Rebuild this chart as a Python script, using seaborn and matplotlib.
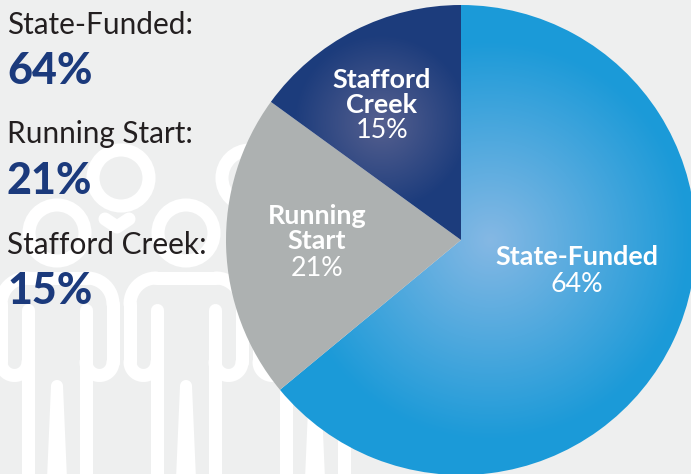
import matplotlib
matplotlib.use("Agg")
import matplotlib.pyplot as plt
import numpy as np
import seaborn as sns
from matplotlib.colors import LinearSegmentedColormap
from matplotlib.patches import Circle, Wedge

categories = ["State-Funded", "Running Start", "Stafford Creek"]
shares = [64, 21, 15]
slice_labels = ["State-Funded", "Running\nStart", "Stafford\nCreek"]

BG = "#eeefef"
NAVY = "#1b3a7c"
W, H = 691, 474

sns.set_theme(style="white")
plt.rcParams["font.family"] = ["Lato", "DejaVu Sans"]

fig = plt.figure(figsize=(W / 100, H / 100), dpi=100, facecolor=BG)
ax = fig.add_axes([0, 0, 1, 1])
ax.set_xlim(0, W)
ax.set_ylim(H, 0)
ax.axis("off")

LW = 9.4
line_style = dict(color="white", lw=LW, solid_capstyle="round", zorder=1)


def draw_head(c, y):
    ax.add_patch(Circle((c, y), 28, fill=False, ec="white", lw=LW, zorder=1))


def draw_person(c, top):
    # outline person, stroke in white behind everything
    draw_head(c, top - 45)
    for s in (-1, 1):
        t = np.linspace(0, np.pi / 2, 12)
        ax.plot([c, c + s * 30], [top, top], **line_style)
        ax.plot(c + s * (30 + 26 * np.sin(t)), top + 26 * (1 - np.cos(t)), **line_style)
        ax.plot([c + s * 56, c + s * 56], [top + 26, top + 84], **line_style)
        u = np.linspace(0, np.pi, 20)
        ax.plot(c + s * (42.5 + 13.5 * np.cos(u)), top + 84 + 13.5 * np.sin(u), **line_style)
        # inner arm line runs on into the outer leg
        ax.plot([c + s * 29, c + s * 29], [top + 32, H + 5], **line_style)
    # gap between the legs is a solid taper
    ax.fill([c - 6, c + 6, c + 10, c - 10], [top + 108, top + 108, H + 5, H + 5], color="white", lw=0, zorder=1)
    ax.add_patch(Circle((c, top + 108), 6, fc="white", ec="none", zorder=1))


# back row only shows as heads, plus the bit of shoulder between the front heads
draw_head(121, 178)
draw_head(250, 178)
ax.plot([105, 117, 129], [219, 227, 219], **line_style)
for c in [57, 186, 315]:
    draw_person(c, 278)

# pie, clockwise from 12 o'clock
cx, cy, r = 461, 240, 235
colors = ["#1b9ad8", "#adb1b1", "#1c3c7c"]
inner = ["#85b8e4", "#adb1b1", "#56608f"]
grad_centers = [(490, 240), (330, 240), (381, 122)]
grad_reach = [200, 100, 88]
yy, xx = np.mgrid[0:H, 0:W]
start = 0
for share, col, inn, gc, reach in zip(shares, colors, inner, grad_centers, grad_reach):
    end = start + share * 3.6
    # y axis is flipped, so wedge angles run clockwise from +x
    wedge = Wedge((cx, cy), r, start - 90, end - 90, fc="none", ec="none")
    ax.add_patch(wedge)
    cmap = LinearSegmentedColormap.from_list("g", [inn, col])
    d = np.hypot(xx - gc[0], yy - gc[1])
    im = ax.imshow(d, cmap=cmap, vmin=0, vmax=reach, extent=(0, W, H, 0), aspect="auto", zorder=2)
    im.set_clip_path(wedge)
    start = end

label_style = dict(color="white", fontsize=19.4, ha="center", va="center", zorder=3)
ax.text(576.5, 257, slice_labels[0], fontweight="bold", **label_style)
ax.text(577, 284, f"{shares[0]}%", **label_style)
ax.text(317, 228.5, slice_labels[1], fontweight="bold", linespacing=1.08, **label_style)
ax.text(317, 268, f"{shares[1]}%", **label_style)
ax.text(382, 92.5, slice_labels[2], fontweight="bold", linespacing=1.08, **label_style)
ax.text(382, 131, f"{shares[2]}%", **label_style)

# legend column
for name, share, y1, y2 in zip(categories, shares, [25, 134, 245], [71, 181, 291]):
    ax.text(7, y1, name + ":", color="#231f20", fontsize=21.4, ha="left", va="center", zorder=4)
    ax.text(7, y2, f"{share}%", color=NAVY, fontsize=31, fontweight="black", ha="left", va="center", zorder=4)

fig.savefig("out.png", dpi=100, facecolor=BG)
